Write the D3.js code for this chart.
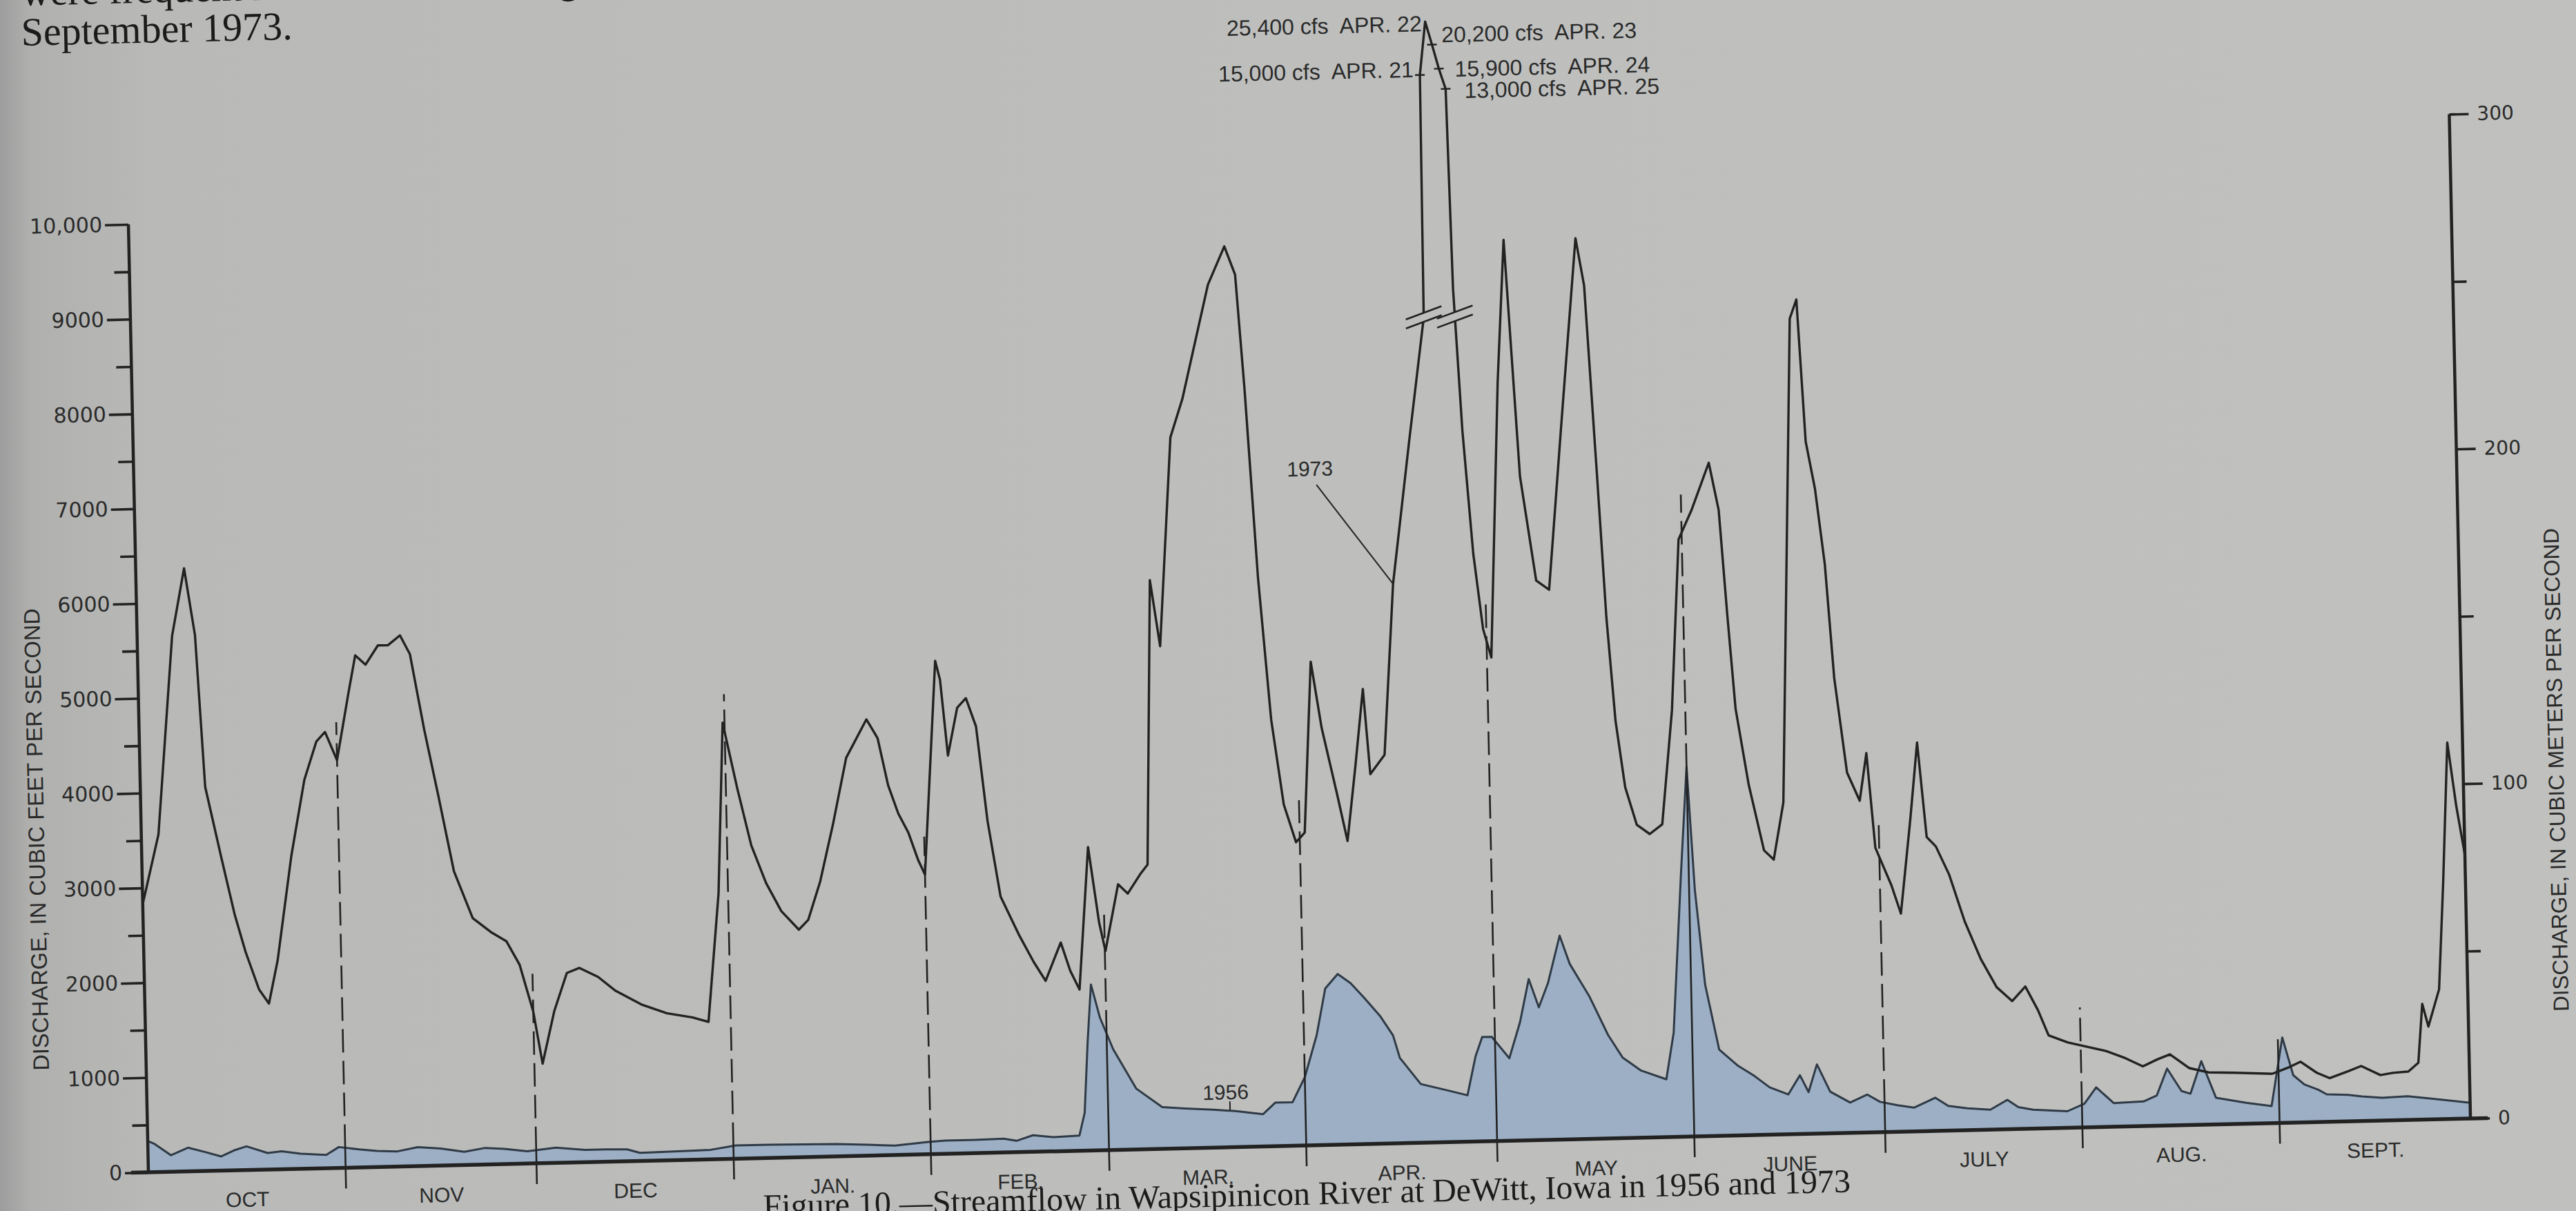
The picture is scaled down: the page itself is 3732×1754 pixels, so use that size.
<!DOCTYPE html>
<html>
<head>
<meta charset="utf-8">
<script src="https://cdn.jsdelivr.net/npm/d3@7"></script>
<style>
  html, body { margin: 0; padding: 0; overflow: hidden; background: #bdbebc; }
  svg { display: block; }
</style>
</head>
<body>
<svg id="chart" width="3732" height="1754"></svg>
<script>
// ---- Water year October 1972 - September 1973 -------------------------
const monthNames = ["OCT", "NOV", "DEC", "JAN.", "FEB.", "MAR.", "APR.", "MAY", "JUNE", "JULY", "AUG.", "SEPT."];
const monthLengths = [31, 30, 31, 31, 28, 31, 30, 31, 30, 31, 31, 30];

// left axis (cubic feet per second)
const cfsMajorTicks = [0, 1000, 2000, 3000, 4000, 5000, 6000, 7000, 8000, 9000, 10000];
const cfsMajorLabels = ["0", "1000", "2000", "3000", "4000", "5000", "6000", "7000", "8000", "9000", "10,000"];
const cfsMinorTicks = [500, 1500, 2500, 3500, 4500, 5500, 6500, 7500, 8500, 9500];

// right axis (cubic meters per second)
const cmsMajorTicks = [0, 100, 200, 300];
const cmsMinorTicks = [50, 150, 250];

// 1973 discharge, [days after Oct 1, cfs]
const flow1973 = [
  [0, 2830], [2.7, 3560], [5.5, 5650], [7.6, 6360], [9.1, 5650], [10.2, 4050], [12.5, 3300], [14.4, 2700], [16, 2300], [18, 1900],
  [19.5, 1750], [21, 2200], [23.5, 3300], [25.8, 4100], [27.8, 4500], [29.2, 4600], [31.0, 4300], [33.0, 5000], [34.2, 5400], [35.8, 5300],
  [37.8, 5500], [39.4, 5500], [41.3, 5600], [42.8, 5400], [44.8, 4600], [46.8, 3900], [49, 3100], [51.8, 2600], [54.6, 2450], [57, 2350],
  [59, 2100], [61, 1600], [62.3, 1050], [64.3, 1600], [66.4, 2000], [68.4, 2050], [71.3, 1950], [74, 1800], [78, 1650], [82, 1550],
  [86, 1500], [88.5, 1450], [90.5, 2800], [91.7, 4600], [93.8, 3900], [95.8, 3300], [98, 2900], [100.3, 2600], [103.0, 2400], [104.5, 2500],
  [106.5, 2900], [108.7, 3500], [111, 4200], [114.3, 4600], [116, 4400], [117.5, 3900], [119, 3600], [120.5, 3400], [122, 3100], [123.0, 2950],
  [125.3, 5200], [126, 5000], [127, 4200], [128.6, 4700], [130, 4800], [131.5, 4500], [133, 3500], [134.8, 2700], [137.5, 2300], [139.8, 2000],
  [141.6, 1800], [144.1, 2200], [145.5, 1900], [146.9, 1700], [148.7, 3200], [150.2, 2400], [151.1, 2100], [153.3, 2800], [154.8, 2700], [156.8, 2900],
  [158.0, 3000], [159.3, 6000], [160.7, 5300], [163.0, 7500], [165.0, 7900], [167.2, 8500], [169.4, 9100], [172.1, 9500], [173.7, 9200], [174.8, 8000],
  [176.3, 6000], [177.9, 4500], [179.6, 3600], [181.4, 3200], [182.8, 3300], [184.3, 5100], [185.8, 4400], [188.0, 3700], [189.5, 3200], [191.0, 4000],
  [192.4, 4800], [193.3, 3900], [195.6, 4100], [197.5, 5900], [200.5, 7400], [203.2, 8700],
  [203.4, 15000], [204.4, 25400], [205.4, 20200], [206.4, 15900], [207.4, 13000],
  [207.9, 9000], [208.9, 7500], [210.2, 6200], [211.5, 5400], [212.7, 5100], [214.6, 8000], [216.0, 9500], [217.8, 7000], [220.0, 5900], [222.0, 5800],
  [224.4, 7500], [227.3, 9500], [228.5, 9000], [229.9, 7000], [230.9, 5500], [232.0, 4400], [233.3, 3700], [235.0, 3300], [237.0, 3200], [239.0, 3300],
  [240.9, 4500], [242.5, 6300], [244.6, 6600], [247.5, 7100], [248.9, 6600], [249.9, 5500], [250.9, 4500], [252.7, 3700], [254.9, 3000], [256.4, 2900],
  [258.1, 3500], [260.7, 8600], [261.8, 8800], [262.8, 7300], [264.1, 6800], [265.4, 6000], [266.5, 4800], [268.2, 3800], [270.1, 3500], [271.3, 4000],
  [272.4, 3000], [274.8, 2600], [276.2, 2300], [278.0, 3300], [279.3, 4100], [280.5, 3100], [281.9, 3000], [283.9, 2700], [286.2, 2200], [288.6, 1800],
  [291.0, 1500], [293.4, 1350], [295.5, 1500], [297.4, 1250], [299, 980], [302, 900], [304.4, 860], [308, 800], [311, 720], [313.7, 630],
  [316, 700], [318, 750], [321, 600], [324, 550], [328, 540], [331, 530], [334, 520], [336.5, 580], [338.5, 640], [341, 520],
  [343, 460], [346, 530], [348, 580], [351, 480], [353, 500], [355.4, 510], [357, 600], [357.8, 1220], [358.7, 980], [360.5, 1370],
  [361.5, 2500], [362.6, 3970], [363.8, 3300], [365, 2780]
];

// 1956 discharge, [days after Oct 1, cfs]
const flow1956 = [
  [0, 330], [1, 300], [3.6, 175], [6.3, 250], [9, 200], [11.5, 150], [13.5, 210], [15.5, 250], [18.8, 175], [21, 190],
  [24, 160], [28, 140], [30, 220], [33.2, 190], [36, 170], [39.2, 160], [42.4, 200], [46, 180], [49.7, 140], [53, 175],
  [56, 160], [59.6, 130], [64.1, 160], [68.7, 130], [72, 130], [75.3, 125], [77.3, 85], [82, 90], [88.4, 100], [92.4, 140],
  [97.7, 140], [103, 135], [108.2, 130], [113, 115], [117.4, 100], [122.6, 130], [125.3, 140], [130, 140], [134.5, 145], [136.5, 120],
  [139.1, 175], [142.4, 150], [146.4, 160], [147.3, 400], [148, 1150], [148.7, 1750], [150, 1400], [152, 1060], [155.5, 640], [159.5, 440],
  [163, 420], [167.5, 400], [171, 380], [175.3, 340], [177.3, 460], [180, 460], [182, 720], [184, 1160], [185.5, 1650], [187.5, 1800],
  [189.5, 1700], [191.5, 1550], [194, 1350], [196, 1140], [197, 900], [200.2, 620], [204.2, 550], [207.5, 490], [208.9, 900], [210, 1100],
  [211.5, 1100], [214.2, 870], [216, 1250], [217.5, 1700], [219, 1400], [220.5, 1650], [222.5, 2150], [224, 1850], [227, 1500], [229.8, 1090],
  [232, 850], [234.8, 710], [238.8, 610], [240.1, 1100], [241.8, 2800], [243.0, 3900], [243.9, 2600], [245.2, 1600], [247.2, 910], [250, 740],
  [252.5, 630], [255, 500], [257.9, 420], [259.8, 620], [261.1, 440], [262.5, 730], [264.5, 440], [267.6, 320], [270.3, 400], [272.3, 320],
  [275, 280], [277.6, 250], [281, 350], [283, 260], [286, 230], [289.6, 210], [292.3, 310], [294, 230], [296.3, 200], [301.7, 175],
  [304.4, 250], [306.3, 420], [309, 250], [313.7, 260], [315.8, 320], [317.5, 600], [319.7, 360], [321.1, 330], [322.9, 670], [325.1, 280],
  [329.8, 220], [333.8, 180], [335.7, 900], [337.3, 500], [339, 400], [341.2, 340], [342.5, 290], [345.8, 280], [348, 260], [351.2, 240],
  [355.2, 250], [360, 210], [364.5, 170], [365, 170]
];

// April 1973 flood crest, beyond the top of the scale
const crestDays = [203.4, 204.4, 205.4, 206.4, 207.4];
const crestCfs = [15000, 25400, 20200, 15900, 13000];
const crestLabels = ["15,000 cfs  APR. 21", "25,400 cfs  APR. 22", "20,200 cfs  APR. 23", "15,900 cfs  APR. 24", "13,000 cfs  APR. 25"];
const crestLabelSide = ["left", "left", "right", "right", "right"];
const crestLabelOffset = [[-9, 3], [-5, 14], [14, -3], [23, 12], [27, 14]];

// ---- page geometry ------------------------------------------------------
const svg = d3.select("#chart");
const defs = svg.append("defs");
const paper = defs.append("linearGradient").attr("id", "paper")
  .attr("x1", 0).attr("x2", 1).attr("y1", 0).attr("y2", 0);
[[0, "#9c9d9c"], [0.012, "#b0b1af"], [0.06, "#b9bab8"], [0.5, "#bebfbd"], [1, "#c0c1bf"]]
  .forEach(([o, c]) => paper.append("stop").attr("offset", o).attr("stop-color", c));
svg.append("rect").attr("width", 3732).attr("height", 1754).attr("fill", "url(#paper)");

// the printed page sits slightly turned; everything is drawn in page coordinates
const A = 0.99973, B = -0.02318, C = 0.0211, D = 1.0, E = 215, F = 1698;
function toLocal(X, Y) {
  const det = A * D - B * C, dx = X - E, dy = Y - F;
  return [(D * dx - C * dy) / det, (A * dy - B * dx) / det];
}
const page = svg.append("g").attr("transform", `matrix(${A},${B},${C},${D},${E},${F})`);

const INK = "#222222";
const TEXT = "#2a2a2a";
const SANS = "'Liberation Sans', Arial, sans-serif";

// ---- scales -------------------------------------------------------------
const W = 3365;
const x = d3.scaleLinear().domain([0, 365]).range([0, W]);
const y = d3.scaleLinear().domain([0, 10000]).range([0, -1373]);
const yCrest = d3.scaleLog().domain([10000, 13000, 25400]).range([-1373, -1525, -1623]);
const yv = v => (v <= 10000 ? y(v) : yCrest(v));
const CFS_PER_CMS = 35.3147;
const yCms = d3.scaleLinear().domain([0, 300]).range([0, y(300 * CFS_PER_CMS)]);

const monthStart = [0];
monthLengths.forEach((n, i) => monthStart.push(monthStart[i] + n));

function valueAt(series, d) {
  const days = series.map(p => p[0]);
  const i = d3.bisectRight(days, d);
  if (i <= 0) return series[0][1];
  if (i >= series.length) return series[series.length - 1][1];
  const [d0, v0] = series[i - 1], [d1, v1] = series[i];
  return v0 + (d - d0) / (d1 - d0) * (v1 - v0);
}

// ---- 1956 shaded hydrograph --------------------------------------------
page.append("path")
  .datum(flow1956)
  .attr("d", d3.area().x(p => x(p[0])).y0(0).y1(p => y(p[1])))
  .attr("fill", "#9cafc4");
page.append("path")
  .datum(flow1956)
  .attr("d", d3.line().x(p => x(p[0])).y(p => y(p[1])))
  .attr("fill", "none").attr("stroke", "#2f3a46").attr("stroke-width", 3).attr("stroke-linejoin", "round");

// ---- month boundaries ---------------------------------------------------
const mg = page.append("g");
monthStart.slice(1, 12).forEach(d => {
  const v56 = valueAt(flow1956, d);
  const v73 = valueAt(flow1973, d);
  mg.append("line").attr("x1", x(d)).attr("x2", x(d)).attr("y1", 30).attr("y2", y(v56))
    .attr("stroke", INK).attr("stroke-width", 2.6);
  mg.append("line").attr("x1", x(d)).attr("x2", x(d)).attr("y1", y(v56)).attr("y2", y(v73 + 400))
    .attr("stroke", INK).attr("stroke-width", 2.6).attr("stroke-dasharray", "34,12");
});

// ---- 1973 hydrograph ----------------------------------------------------
page.append("path")
  .datum(flow1973)
  .attr("d", d3.line().x(p => x(p[0])).y(p => yv(p[1])))
  .attr("fill", "none").attr("stroke", INK).attr("stroke-width", 3.4).attr("stroke-linejoin", "round");

// scale-break marks where the crest leaves the graph
function crossing(level, from, to) {
  const ly = y(level);
  for (let i = from; i < to; i++) {
    const a = yv(flow1973[i][1]), b = yv(flow1973[i + 1][1]);
    if ((a - ly) * (b - ly) <= 0 && a !== b) {
      const t = (ly - a) / (b - a);
      return [x(flow1973[i][0]) + t * (x(flow1973[i + 1][0]) - x(flow1973[i][0])), ly];
    }
  }
  return null;
}
const iCrest = flow1973.findIndex(p => p[0] === crestDays[0]);
const breaks = [crossing(8700, iCrest - 2, iCrest + 1), crossing(8700, iCrest + 4, iCrest + 7)];
breaks.forEach(bp => {
  if (!bp) return;
  const [cx, cy] = bp;
  const bg = page.append("g");
  bg.append("polygon")
    .attr("points", [[cx - 26, cy + 2], [cx + 26, cy - 16], [cx + 26, cy - 3], [cx - 26, cy + 15]].map(p => p.join(",")).join(" "))
    .attr("fill", "#bebfbd");
  [[2, -16], [15, -3]].forEach(([l, r]) => {
    bg.append("line").attr("x1", cx - 26).attr("y1", cy + l).attr("x2", cx + 26).attr("y2", cy + r)
      .attr("stroke", INK).attr("stroke-width", 2.6);
  });
});

// crest values
const crest = page.append("g");
crestDays.forEach((d, i) => {
  const px = x(d), py = yCrest(crestCfs[i]);
  if (i !== 1) {
    crest.append("line").attr("x1", px - 7).attr("x2", px + 7).attr("y1", py).attr("y2", py)
      .attr("stroke", INK).attr("stroke-width", 2.4);
  }
  const left = crestLabelSide[i] === "left";
  crest.append("text")
    .attr("x", px + crestLabelOffset[i][0])
    .attr("y", py + crestLabelOffset[i][1])
    .attr("text-anchor", left ? "end" : "start")
    .attr("font-family", SANS).attr("font-size", 32).attr("fill", TEXT)
    .attr("xml:space", "preserve")
    .text(crestLabels[i]);
});

// series labels
const lead73 = [197.5, valueAt(flow1973, 197.5)];
const l73x = x(lead73[0]), l73y = y(lead73[1]);
page.append("line").attr("x1", l73x - 108).attr("y1", l73y - 146).attr("x2", l73x).attr("y2", l73y)
  .attr("stroke", INK).attr("stroke-width", 2);
page.append("text").attr("x", l73x - 117).attr("y", l73y - 159)
  .attr("text-anchor", "middle").attr("font-family", SANS).attr("font-size", 30).attr("fill", TEXT).text("1973");

const lead56 = [169.5, valueAt(flow1956, 169.5)];
const l56x = x(lead56[0]), l56y = y(lead56[1]);
page.append("line").attr("x1", l56x + 6).attr("y1", l56y - 13).attr("x2", l56x + 6).attr("y2", l56y)
  .attr("stroke", INK).attr("stroke-width", 2);
page.append("text").attr("x", l56x).attr("y", l56y - 16)
  .attr("text-anchor", "middle").attr("font-family", SANS).attr("font-size", 30).attr("fill", TEXT).text("1956");

// ---- axes ---------------------------------------------------------------
function styleAxis(g, fontSize, family) {
  g.selectAll("path.domain").remove();
  g.selectAll(".tick line").attr("stroke", INK).attr("stroke-width", 3.6);
  g.selectAll(".tick text").attr("fill", TEXT).attr("font-size", fontSize).attr("font-family", family);
  g.attr("font-size", null).attr("font-family", null);
}

const leftMajor = page.append("g").call(
  d3.axisLeft(y).tickValues(cfsMajorTicks).tickSize(34).tickSizeOuter(0).tickPadding(4)
    .tickFormat((d, i) => cfsMajorLabels[i]));
styleAxis(leftMajor, 30, "'DejaVu Sans', sans-serif");
const leftMinor = page.append("g").call(
  d3.axisLeft(y).tickValues(cfsMinorTicks).tickSize(22).tickSizeOuter(0).tickFormat(""));
styleAxis(leftMinor, 10, "sans-serif");

const rightMajor = page.append("g").attr("transform", `translate(${W},0)`).call(
  d3.axisRight(yCms).tickValues(cmsMajorTicks).tickSize(28).tickSizeOuter(0).tickPadding(12));
styleAxis(rightMajor, 28, "'DejaVu Sans', sans-serif");
const rightMinor = page.append("g").attr("transform", `translate(${W},0)`).call(
  d3.axisRight(yCms).tickValues(cmsMinorTicks).tickSize(20).tickSizeOuter(0).tickFormat(""));
styleAxis(rightMinor, 10, "sans-serif");

// axis lines
page.append("line").attr("x1", 0).attr("x2", 0).attr("y1", 0).attr("y2", y(10000))
  .attr("stroke", INK).attr("stroke-width", 4.5);
page.append("line").attr("x1", W).attr("x2", W).attr("y1", 0).attr("y2", yCms(300))
  .attr("stroke", INK).attr("stroke-width", 4.5);
page.append("line").attr("x1", -25).attr("x2", W + 25).attr("y1", 0).attr("y2", 0)
  .attr("stroke", INK).attr("stroke-width", 5.5);

// month names
page.append("g").selectAll("text").data(monthNames).join("text")
  .attr("x", (m, i) => x((monthStart[i] + monthStart[i + 1]) / 2))
  .attr("y", 53)
  .attr("text-anchor", "middle")
  .attr("font-family", SANS).attr("font-size", 30).attr("fill", TEXT)
  .text(m => m);

// axis titles
const lt = toLocal(53, 1216);
page.append("text").attr("transform", `translate(${lt[0]},${lt[1]}) rotate(-90)`)
  .attr("text-anchor", "middle").attr("dominant-baseline", "central")
  .attr("font-family", SANS).attr("font-size", 32.5).attr("fill", TEXT)
  .text("DISCHARGE, IN CUBIC FEET PER SECOND");
const rt = toLocal(3703, 1115);
page.append("text").attr("transform", `translate(${rt[0]},${rt[1]}) rotate(-90)`)
  .attr("text-anchor", "middle").attr("dominant-baseline", "central")
  .attr("font-family", SANS).attr("font-size", 31.5).attr("fill", TEXT)
  .text("DISCHARGE, IN CUBIC METERS PER SECOND");

// ---- surrounding page text ---------------------------------------------
const SERIF = "'Liberation Serif', 'Times New Roman', serif";
const b1 = toLocal(31, 8), b2 = toLocal(31, 66);
page.append("text").attr("x", b1[0]).attr("y", b1[1]).attr("font-family", SERIF).attr("font-size", 58).attr("fill", "#1b1b1b")
  .text("were frequent runoff events during the autumn, early spring, and summer of");
page.append("text").attr("x", b2[0]).attr("y", b2[1]).attr("font-family", SERIF).attr("font-size", 58).attr("fill", "#1b1b1b")
  .text("September 1973.");
const cap = toLocal(1106, 1763);
page.append("text").attr("x", cap[0]).attr("y", cap[1]).attr("font-family", SERIF).attr("font-size", 48).attr("fill", "#1b1b1b")
  .text("Figure 10.\u2014Streamflow in Wapsipinicon River at DeWitt, Iowa in 1956 and 1973");
</script>
</body>
</html>
